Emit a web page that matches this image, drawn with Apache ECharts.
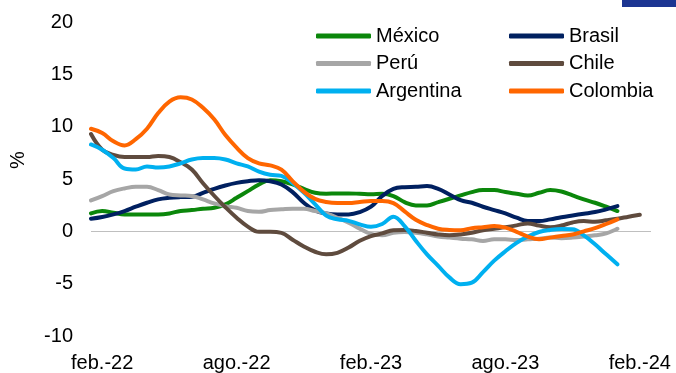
<!DOCTYPE html>
<html>
<head>
<meta charset="utf-8">
<script src="https://cdn.jsdelivr.net/npm/echarts@6/dist/echarts.min.js"></script>
<style>
  html, body { margin: 0; padding: 0; background: #ffffff; }
  #chart { width: 676px; height: 373px; }
</style>
</head>
<body>
<div id="chart"></div>
<script>
// Semi-monthly periods from mid-January 2022 to mid-February 2024.
const monthNames = ['ene.', 'feb.', 'mar.', 'abr.', 'may.', 'jun.', 'jul.', 'ago.', 'sep.', 'oct.', 'nov.', 'dic.'];
const startYear = 2022;
const periodCount = 51;

// Inflation gap (%) per semi-monthly period
const mexico = [1.71, 1.94, 1.78, 1.62, 1.62, 1.62, 1.62, 1.71, 1.95, 2.03, 2.16, 2.25, 2.57, 3.2, 3.84, 4.48, 4.89, 4.79, 4.48, 4.06, 3.68, 3.59, 3.62, 3.62, 3.59, 3.55, 3.59, 3.37, 2.79, 2.48, 2.48, 2.79, 3.11, 3.43, 3.75, 3.94, 3.94, 3.75, 3.59, 3.43, 3.68, 3.94, 3.8, 3.43, 3.05, 2.73, 2.35, 1.94];
const brasil = [1.2, 1.37, 1.62, 1.94, 2.35, 2.73, 3.05, 3.2, 3.27, 3.3, 3.68, 4.06, 4.38, 4.63, 4.79, 4.89, 4.79, 4.48, 3.75, 2.73, 2.0, 1.71, 1.62, 1.62, 1.84, 2.35, 3.37, 4.06, 4.22, 4.25, 4.32, 4.06, 3.52, 2.98, 2.73, 2.35, 2.03, 1.71, 1.3, 0.98, 0.98, 1.14, 1.35, 1.52, 1.68, 1.84, 2.1, 2.41];
const peru = [2.95, 3.37, 3.84, 4.1, 4.25, 4.25, 3.94, 3.52, 3.43, 3.37, 3.05, 2.67, 2.4, 2.25, 1.94, 1.87, 2.03, 2.1, 2.16, 2.16, 1.94, 1.71, 1.3, 0.83, 0.25, -0.25, -0.38, -0.13, -0.06, -0.13, -0.29, -0.5, -0.6, -0.7, -0.76, -0.92, -0.76, -0.76, -0.83, -0.76, -0.7, -0.6, -0.65, -0.6, -0.5, -0.38, -0.19, 0.25];
const chile = [9.3, 7.8, 7.3, 7.1, 7.1, 7.1, 7.2, 7.1, 6.6, 5.9, 4.6, 3.4, 2.3, 1.3, 0.45, -0.05, -0.05, -0.15, -0.8, -1.45, -1.95, -2.2, -2.05, -1.55, -0.9, -0.45, -0.2, 0.1, 0.13, 0.03, -0.13, -0.3, -0.38, -0.3, -0.13, 0.1, 0.25, 0.4, 0.57, 0.76, 0.55, 0.4, 0.55, 0.85, 0.98, 0.92, 1.05, 1.2, 1.4, 1.59];
const argentina = [8.3, 7.8, 7.0, 6.0, 5.9, 6.2, 6.1, 6.2, 6.5, 6.86, 7.0, 7.0, 6.86, 6.5, 6.2, 5.7, 5.4, 5.3, 4.6, 3.7, 2.6, 1.5, 1.15, 1.0, 0.67, 0.44, 0.7, 1.4, 0.5, -0.9, -2.2, -3.3, -4.4, -5.05, -4.9, -3.9, -2.8, -1.9, -1.1, -0.5, -0.06, 0.13, 0.22, 0.2, -0.38, -1.24, -2.2, -3.15];
const colombia = [9.8, 9.4, 8.6, 8.2, 8.8, 9.8, 11.3, 12.4, 12.8, 12.6, 11.8, 10.7, 9.2, 8.0, 7.0, 6.5, 6.3, 5.9, 4.8, 3.8, 3.1, 2.8, 2.7, 2.7, 2.8, 2.9, 2.9, 2.7, 1.9, 1.1, 0.6, 0.25, 0.13, 0.1, 0.3, 0.4, 0.5, 0.35, -0.05, -0.5, -0.75, -0.6, -0.45, -0.3, 0.0, 0.3, 0.7, 1.15];

// Axis ticks
const yMin = -10, yMax = 20, yStep = 5;
const labelEvery = 12; // one labelled month every six months

// Build category names: odd positions are month starts, even ones mid-month
const periods = [];
for (let i = 0; i < periodCount; i++) {
  const half = i - 1; // half-months after February 2022
  const monthIdx = 1 + Math.floor(half / 2);
  const y = startYear + Math.floor(monthIdx / 12);
  const m = ((monthIdx % 12) + 12) % 12;
  const tag = monthNames[m] + '-' + String(y).slice(2);
  periods.push(half % 2 === 0 ? tag : '15 ' + tag);
}

const font = '"Liberation Sans", Arial, sans-serif';
const seriesDefs = [
  { name: 'México', data: mexico, color: '#0b870b' },
  { name: 'Brasil', data: brasil, color: '#002060' },
  { name: 'Perú', data: peru, color: '#a6a6a6' },
  { name: 'Chile', data: chile, color: '#5f4b3e' },
  { name: 'Argentina', data: argentina, color: '#00b0f0' },
  { name: 'Colombia', data: colombia, color: '#ff6600' }
];

const legendBase = {
  orient: 'vertical',
  top: 26,
  padding: 0,
  itemWidth: 55,
  itemHeight: 5,
  itemGap: 7.5,
  icon: 'roundRect',
  selectedMode: false,
  textStyle: { fontFamily: font, fontSize: 20, color: '#000000', lineHeight: 20 }
};

const chart = echarts.init(document.getElementById('chart'), null, { renderer: 'canvas' });
chart.setOption({
  animation: false,
  backgroundColor: '#ffffff',
  grid: { left: 91, right: 25, top: 22, bottom: 36, containLabel: false },
  legend: [
    Object.assign({}, legendBase, { left: 316, data: ['México', 'Perú', 'Argentina'] }),
    Object.assign({}, legendBase, { left: 509, data: ['Brasil', 'Chile', 'Colombia'] })
  ],
  xAxis: {
    type: 'category',
    data: periods,
    boundaryGap: false,
    axisLine: { show: false },
    axisTick: { show: false },
    splitLine: { show: false },
    axisLabel: {
      interval: (idx) => (idx - 1) % labelEvery === 0,
      margin: 17,
      fontFamily: font,
      fontSize: 20,
      color: '#000000'
    }
  },
  yAxis: {
    type: 'value',
    min: yMin,
    max: yMax,
    interval: yStep,
    axisLine: { show: false },
    axisTick: { show: false },
    splitLine: { show: false },
    axisLabel: { margin: 18, fontFamily: font, fontSize: 20, color: '#000000' }
  },
  graphic: [
    {
      type: 'text',
      x: 18, y: 160,
      rotation: Math.PI / 2,
      style: { text: '%', fontFamily: font, fontSize: 20, fill: '#000000', align: 'center', verticalAlign: 'middle' }
    },
    {
      type: 'rect',
      shape: { x: 622, y: 0, width: 54, height: 7 },
      style: { fill: '#1c3592' }
    }
  ],
  series: seriesDefs.map((s, k) => ({
    name: s.name,
    type: 'line',
    data: s.data,
    smooth: 0.4,
    showSymbol: false,
    symbol: 'none',
    color: s.color,
    lineStyle: { width: 4, color: s.color, cap: 'round' },
    z: 2 + k,
    markLine: k === 0 ? {
      silent: true,
      symbol: 'none',
      label: { show: false },
      lineStyle: { color: '#bfbfbf', width: 1, type: 'solid' },
      data: [{ yAxis: 0 }],
      z: 1
    } : undefined
  }))
});
</script>
</body>
</html>
